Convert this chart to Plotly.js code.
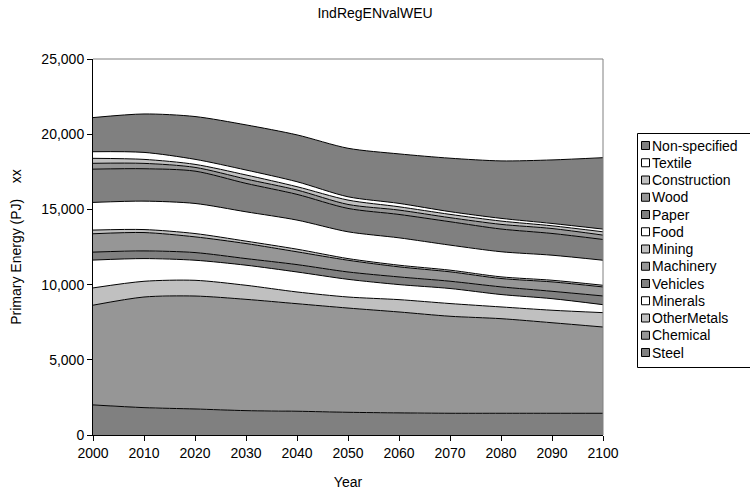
<!DOCTYPE html>
<html>
<head>
<meta charset="utf-8">
<script src="https://cdn.plot.ly/plotly-3.0.1.min.js"></script>
<style>html,body{margin:0;padding:0;background:#fff;}#chart{width:750px;height:495px;}</style>
</head>
<body>
<div id="chart"></div>
<script>
const years = [2000, 2010, 2020, 2030, 2040, 2050, 2060, 2070, 2080, 2090, 2100];

// Series, bottom of the stack first
const seriesNames = ["Steel", "Chemical", "OtherMetals", "Minerals", "Vehicles", "Machinery",
                     "Mining", "Food", "Paper", "Wood", "Construction", "Textile", "Non-specified"];

const steel        = [2000, 1820, 1730, 1620, 1580, 1510, 1470, 1445, 1445, 1445, 1445];
const chemical     = [6630, 7355, 7510, 7400, 7150, 6930, 6710, 6450, 6290, 6020, 5735];
const otherMetals  = [1150, 1045, 1045,  935,  780,  735,  820,  845,  780,  830,  955];
const minerals     = [1850, 1510, 1335, 1335, 1330, 1175, 1000, 1000,  825,  770,  530];
const vehicles     = [ 530,  510,  510,  440,  490,  490,  510,  485,  510,  490,  580];
const machinery    = [1220, 1220, 1045, 1000,  850,  780,  670,  625,  555,  625,  600];
const mining       = [ 245,  200,  220,  160,  175,  110,  110,  110,  110,  110,  110];
const food         = [1840, 1890, 2000, 1950, 1935, 1780, 1820, 1665, 1670, 1665, 1665];
const paper        = [2210, 2155, 2150, 1890, 1710, 1555, 1555, 1555, 1510, 1445, 1380];
const wood         = [ 390,  355,  250,  290,  290,  265,  290,  270,  310,  330,  290];
const construction = [ 330,  265,  200,  270,  220,  290,  220,  220,  220,  180,  220];
const textile      = [ 440,  465,  335,  330,  330,  220,  225,  180,  180,  155,  180];
const nonSpecified = [2270, 2555, 2845, 3000, 3115, 3225, 3290, 3555, 3820, 4225, 4750];

const seriesValues = [steel, chemical, otherMetals, minerals, vehicles, machinery,
                      mining, food, paper, wood, construction, textile, nonSpecified];
const fillColors = ["#808080", "#969696", "#C0C0C0", "#FFFFFF",
                    "#808080", "#969696", "#C0C0C0", "#FFFFFF",
                    "#808080", "#969696", "#C0C0C0", "#FFFFFF", "#808080"];

const traces = seriesNames.map((name, i) => ({
  type: "scatter",
  mode: "lines",
  name: name,
  x: years,
  y: seriesValues[i],
  stackgroup: "one",
  fillcolor: fillColors[i],
  line: {color: "#000000", width: 1, shape: "spline", smoothing: 0.8},
  showlegend: false
}));

const FAM = "Liberation Sans, Arial, sans-serif";
const W = 750, H = 495, L = 93, R = 603, T = 59, B = 435;
const px2x = p => (p - L) / (R - L);
const px2y = p => (B - p) / (B - T);

// Custom legend (Excel-style small squares)
const shapes = [
  {type: "line", xref: "paper", yref: "paper", x0: 0, x1: 1, y0: 1, y1: 1, line: {color: "#808080", width: 1}, layer: "above"},
  {type: "line", xref: "paper", yref: "paper", x0: 1, x1: 1, y0: 0, y1: 1, line: {color: "#808080", width: 1}, layer: "above"},
  {type: "rect", xref: "paper", yref: "paper", x0: px2x(637.5), x1: px2x(760), y0: px2y(367.5), y1: px2y(133.5),
   line: {color: "#000", width: 1}, fillcolor: "rgba(0,0,0,0)", layer: "above"}
];
const annotations = [];
const order = seriesNames.map((n, i) => i).reverse();
order.forEach((idx, k) => {
  const cy = 145.5 + k * 17.25;
  shapes.push({type: "rect", xref: "paper", yref: "paper",
    x0: px2x(641.5), x1: px2x(649.5), y0: px2y(cy + 4), y1: px2y(cy - 4),
    line: {color: "#000", width: 1}, fillcolor: fillColors[idx], layer: "above"});
  annotations.push({xref: "paper", yref: "paper", x: px2x(650), y: px2y(cy),
    xanchor: "left", yanchor: "middle", showarrow: false, text: seriesNames[idx],
    font: {family: FAM, size: 14, color: "#000"}});
});

const layout = {
  width: W, height: H,
  paper_bgcolor: "#fff", plot_bgcolor: "#fff",
  font: {family: FAM, size: 14, color: "#000"},
  margin: {l: L, r: W - R, t: T, b: H - B, autoexpand: false},
  title: {text: "IndRegENvalWEU", font: {family: FAM, size: 14, color: "#000"},
          x: 0.5, xanchor: "center", y: 1 - 13 / H, yanchor: "middle"},
  xaxis: {
    range: [2000, 2100], tickmode: "linear", tick0: 2000, dtick: 10,
    showgrid: false, zeroline: false, showline: true, linecolor: "#000", linewidth: 1,
    ticks: "outside", ticklen: 5, tickcolor: "#000",
    tickfont: {family: FAM, size: 14, color: "#000"},
    title: {text: "Year", font: {family: FAM, size: 14, color: "#000"}, standoff: 17}
  },
  yaxis: {
    range: [0, 25000], tickmode: "linear", tick0: 0, dtick: 5000, tickformat: ",d",
    showgrid: false, zeroline: false, showline: true, linecolor: "#000", linewidth: 1,
    ticks: "outside", ticklen: 5, tickcolor: "#000",
    tickfont: {family: FAM, size: 14, color: "#000"},
    title: {text: "Primary Energy (PJ)&nbsp;&nbsp;&nbsp;&nbsp;xx", font: {family: FAM, size: 14, color: "#000"}, standoff: 16}
  },
  shapes: shapes,
  annotations: annotations,
  showlegend: false
};

Plotly.newPlot("chart", traces, layout, {staticPlot: true, displayModeBar: false});
</script>
</body>
</html>
